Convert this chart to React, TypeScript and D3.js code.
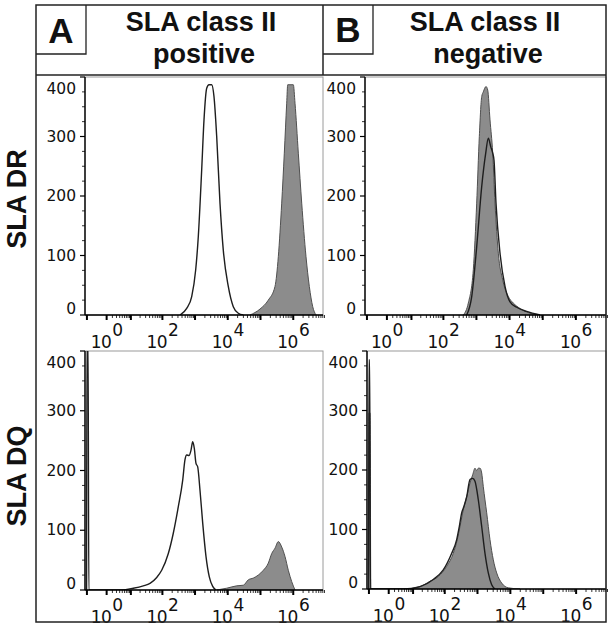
import React from "react";
import * as d3 from "d3";

// ---- axis / tick data ----
const Y_TICKS = [0, 100, 200, 300, 400];
const Y_MINOR_STEP = 25;
const X_LABEL_EXPS = [0, 2, 4, 6];
const X_MAJOR = [-1, 1, 10, 100, 1e3, 1e4, 1e5, 1e6];
const X_DOMAIN = [-1.29, 8.1e6];
const Y_DOMAIN = [0, 400];

const COL_TITLES = ["SLA class II", "SLA class II"];
const COL_SUB = ["positive", "negative"];
const COL_LETTERS = ["A", "B"];
const ROW_LABELS = ["SLA DR", "SLA DQ"];

// ---- histogram data (fluorescence intensity, count) ----
// Panel A, SLA DR
const drA_open_x = [347, 556, 791, 1048, 1259, 1598, 1880, 2272, 2671, 3229, 3797, 4592, 5789, 7300, 10380, 14750, 20960, 29800];
const drA_open_y = [0, 11, 31, 76, 132, 244, 328, 381, 387, 387, 367, 300, 188, 109, 48, 14, 3, 0];
const drA_fill_x = [47800, 96600, 173000, 277000, 350000, 444000, 533000, 631000, 677000, 1005000, 1132000, 1429000, 1813000, 2453000, 3097000, 3930000, 4957000];
const drA_fill_y = [0, 10, 25, 48, 98, 188, 272, 356, 387, 387, 356, 272, 188, 98, 48, 14, 0];
// Panel B, SLA DR
const drB_fill_x = [402, 569, 805, 1020, 1224, 1445, 1614, 1949, 2193, 2570, 3103, 3639, 4580, 6210, 9170, 12980, 20650, 36800, 65900];
const drB_fill_y = [0, 20, 76, 188, 300, 367, 375, 384, 378, 328, 272, 188, 104, 59, 31, 20, 11, 4, 0];
const drB_open_x = [509, 721, 1020, 1445, 1909, 2286, 2698, 3103, 3396, 3899, 5150, 7290, 10320, 16440, 32890, 82900];
const drB_open_y = [0, 31, 115, 216, 272, 297, 283, 272, 260, 188, 104, 48, 22, 13, 6, 0];
// Panel A, SLA DQ
const dqA_open_x = [-1.05, -1.0, -0.85, -0.75, 4.76, 12, 25.3, 41.2, 66.6, 95, 152, 216, 307, 420, 493, 556, 654, 753, 848, 950, 1070, 1207, 1418, 1717, 2166, 2731, 3466, 4373];
const dqA_open_y = [0, 420, 420, 0, 0, 3, 7, 11, 21, 33, 61, 95, 139, 184, 218, 226, 225, 234, 248, 237, 212, 206, 167, 112, 56, 22, 6, 0];
const dqA_fill_x = [4590, 9280, 18750, 29850, 42400, 60300, 85700, 121900, 173000, 219800, 277300, 349900, 444400, 560000, 706300, 897000, 1132000];
const dqA_fill_y = [0, 3, 7, 8, 17, 20, 25, 33, 45, 61, 70, 81, 72, 56, 33, 14, 0];
// Panel B, SLA DQ
const dqB_fill_x = [-1.05, -1.0, -0.85, -0.75, 4.54, 16.8, 34.9, 63.3, 114.8, 182.8, 242.2, 293, 369, 469, 591, 714, 839, 945, 1058, 1191, 1342, 1502, 1905, 2398, 3027, 3838, 5445, 8650, 19630];
const dqB_fill_y = [0, 296, 296, 0, 0, 4, 13, 21, 38, 60, 83, 105, 133, 155, 178, 192, 203, 199, 203, 203, 195, 172, 128, 83, 49, 27, 10, 2, 0];
const dqB_open_x = [-1.05, -1.0, -0.9, -0.8, 4.54, 16.8, 44.3, 90.2, 163.4, 232.3, 279, 330, 388, 469, 591, 714, 839, 1058, 1342, 1690, 2132, 2704, 3411];
const dqB_open_y = [0, 385, 385, 0, 0, 4, 16, 32, 60, 83, 105, 128, 139, 155, 184, 186, 181, 150, 105, 60, 27, 7, 0];

const zip = (xs: number[], ys: number[]) => xs.map((x, i) => ({ x, y: ys[i] }));

type Panel = {
  id: string;
  left: number; right: number; top: number; bottom: number;
  fill: { x: number; y: number }[];
  open: { x: number; y: number }[];
};

const panels: Panel[] = [
  { id: "p1", left: 85, right: 323, top: 77, bottom: 315, fill: zip(drA_fill_x, drA_fill_y), open: zip(drA_open_x, drA_open_y) },
  { id: "p2", left: 365, right: 606, top: 77, bottom: 315, fill: zip(drB_fill_x, drB_fill_y), open: zip(drB_open_x, drB_open_y) },
  { id: "p3", left: 85, right: 323, top: 351, bottom: 590, fill: zip(dqA_fill_x, dqA_fill_y), open: zip(dqA_open_x, dqA_open_y) },
  { id: "p4", left: 367, right: 606, top: 351, bottom: 589, fill: zip(dqB_fill_x, dqB_fill_y), open: zip(dqB_open_x, dqB_open_y) },
];

const minorX: number[] = [];
for (let e = 0; e <= 6; e++) for (let k = 2; k <= 9; k++) minorX.push(k * Math.pow(10, e));

const TICK_FONT = "'DejaVu Sans', sans-serif";
const BOLD_FONT = "'Liberation Sans', Arial, sans-serif";

function PanelView({ p }: { p: Panel }) {
  const x = d3.scaleSymlog().constant(1).domain(X_DOMAIN).range([p.left, p.right]);
  const y = d3.scaleLinear().domain(Y_DOMAIN).range([p.bottom, p.top]);
  const area = d3.area<{ x: number; y: number }>().x(d => x(d.x)).y0(p.bottom).y1(d => y(d.y)).curve(d3.curveMonotoneX);
  const line = d3.line<{ x: number; y: number }>().x(d => x(d.x)).y(d => y(d.y)).curve(d3.curveMonotoneX);
  const minorY = d3.range(0, 401, Y_MINOR_STEP).filter(v => v % 100 !== 0);
  return (
    <g>
      <defs>
        <clipPath id={"clip-" + p.id}>
          <rect x={p.left} y={p.top} width={p.right - p.left} height={p.bottom - p.top} />
        </clipPath>
      </defs>
      <rect x={p.left} y={p.top} width={p.right - p.left} height={p.bottom - p.top} fill="white" stroke="#9a9a9a" strokeWidth={1} />
      <g clipPath={`url(#clip-${p.id})`}>
        <path d={area(p.fill) || ""} fill="#8c8c8c" stroke="#505050" strokeWidth={1} />
        <path d={line(p.open) || ""} fill="none" stroke="#1e1e1e" strokeWidth={1.4} />
      </g>
      {/* y axis */}
      <line x1={p.left} x2={p.left} y1={p.top} y2={p.bottom} stroke="#000" strokeWidth={1.4} />
      {Y_TICKS.map(t => (
        <line key={"yt" + t} x1={p.left - 5} x2={p.left} y1={y(t)} y2={y(t)} stroke="#000" strokeWidth={1.2} />
      ))}
      {minorY.map(t => (
        <line key={"ym" + t} x1={p.left - 3} x2={p.left} y1={y(t)} y2={y(t)} stroke="#000" strokeWidth={0.8} />
      ))}
      {Y_TICKS.map(t => {
        const yy = Math.min(Math.max(y(t), p.top + 11.5), p.bottom - 6);
        return (
          <text key={"yl" + t} x={p.left - 9} y={yy} textAnchor="end" dominantBaseline="central"
            fontFamily={TICK_FONT} fontSize={15.5} fill="#111">{t}</text>
        );
      })}
      {/* x axis */}
      <line x1={p.left} x2={p.right} y1={p.bottom} y2={p.bottom} stroke="#000" strokeWidth={1.4} />
      {X_MAJOR.map(t => (
        <line key={"xt" + t} x1={x(t)} x2={x(t)} y1={p.bottom} y2={p.bottom + 5} stroke="#000" strokeWidth={2} />
      ))}
      {minorX.map(t => (
        <line key={"xm" + t} x1={x(t)} x2={x(t)} y1={p.bottom} y2={p.bottom + 3} stroke="#000" strokeWidth={0.8} />
      ))}
      {X_LABEL_EXPS.map(e => (
        <text key={"xl" + e} x={x(Math.pow(10, e))} y={p.bottom + 33} textAnchor="middle"
          fontFamily={TICK_FONT} fontSize={17} fill="#111" style={{ letterSpacing: "-0.5px" }}>
          <tspan>10</tspan>
          <tspan dy={-12} dx={1}>{e}</tspan>
        </text>
      ))}
    </g>
  );
}

export default function App() {
  return (
    <svg width={613} height={630} style={{ position: "absolute", left: 0, top: 0 }}>
      <rect x={0} y={0} width={613} height={630} fill="white" />
      {panels.map(p => <PanelView key={p.id} p={p} />)}
      {/* frame */}
      <rect x={36} y={5} width={570} height={617} fill="none" stroke="#222" strokeWidth={1.5} />
      <line x1={36} x2={606} y1={75} y2={75} stroke="#222" strokeWidth={1.5} />
      <line x1={323} x2={323} y1={5} y2={75} stroke="#222" strokeWidth={1.5} />
      {/* letter boxes */}
      <path d="M86,5 V54 H36" fill="none" stroke="#222" strokeWidth={1.3} />
      <path d="M373,5 V54 H323" fill="none" stroke="#222" strokeWidth={1.3} />
      <text x={61} y={43} textAnchor="middle" fontFamily={BOLD_FONT} fontWeight="bold" fontSize={35} fill="#111">{COL_LETTERS[0]}</text>
      <text x={348} y={42} textAnchor="middle" fontFamily={BOLD_FONT} fontWeight="bold" fontSize={35} fill="#111">{COL_LETTERS[1]}</text>
      {/* column titles */}
      <text x={201} y={31} textAnchor="middle" fontFamily={BOLD_FONT} fontWeight="bold" fontSize={27} fill="#111">{COL_TITLES[0]}</text>
      <text x={204} y={63} textAnchor="middle" fontFamily={BOLD_FONT} fontWeight="bold" fontSize={27} fill="#111">{COL_SUB[0]}</text>
      <text x={485} y={31} textAnchor="middle" fontFamily={BOLD_FONT} fontWeight="bold" fontSize={27} fill="#111">{COL_TITLES[1]}</text>
      <text x={488} y={63} textAnchor="middle" fontFamily={BOLD_FONT} fontWeight="bold" fontSize={27} fill="#111">{COL_SUB[1]}</text>
      {/* row labels */}
      <text transform="translate(17,199) rotate(-90)" textAnchor="middle" dominantBaseline="central" fontFamily={BOLD_FONT} fontWeight="bold" fontSize={27} fill="#111">{ROW_LABELS[0]}</text>
      <text transform="translate(17,476) rotate(-90)" textAnchor="middle" dominantBaseline="central" fontFamily={BOLD_FONT} fontWeight="bold" fontSize={27} fill="#111">{ROW_LABELS[1]}</text>
    </svg>
  );
}
